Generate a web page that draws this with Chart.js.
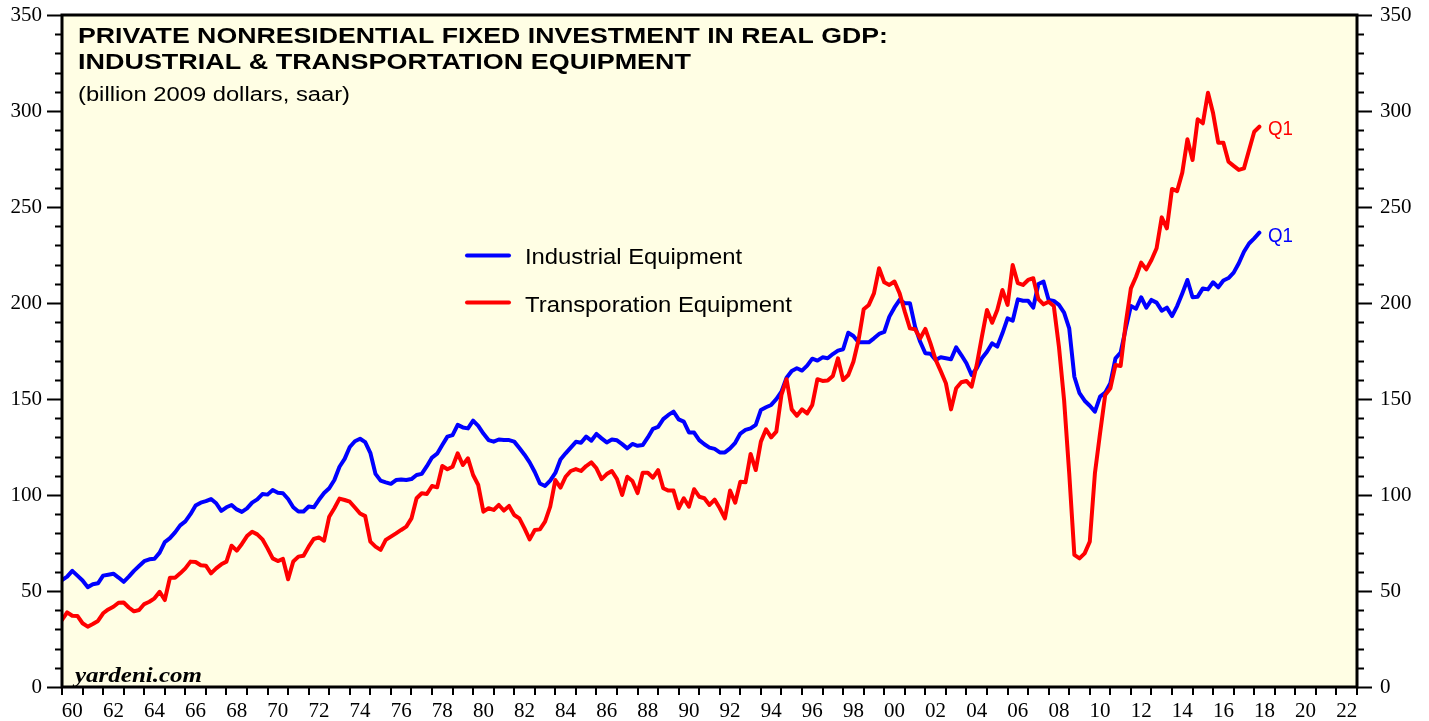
<!DOCTYPE html>
<html><head><meta charset="utf-8">
<script src="https://cdn.jsdelivr.net/npm/chart.js@4.4.1/dist/chart.umd.min.js"></script>
<style>html,body{margin:0;padding:0;background:#fff;overflow:hidden}#wrap{width:1429px;height:721px}</style>
</head><body><div id="wrap"><canvas id="c" width="1429" height="721"></canvas></div>
<script>
// Quarterly observations, first one (1959Q4) plotted at 1960.0, one quarter apart
const firstX = 1960;
const quarterStep = 0.25;

const industrial = [
 55.7, 57.5, 60.5, 58, 55.5, 52, 53.5, 54, 58, 58.5,
 59, 57, 54.8, 57.5, 60.5, 63, 65.5, 66.5, 66.8, 70,
 75.5, 77.5, 80.5, 84.2, 86.3, 90, 94.5, 96, 96.8, 97.9,
 95.7, 91.7, 93.6, 94.8, 92.5, 91.2, 93, 96, 97.7, 100.5,
 100.2, 102.6, 101.2, 100.9, 97.9, 93.6, 91.4, 91.4, 94, 93.6,
 97.5, 101, 103.5, 107.8, 114.7, 118.8, 125, 128, 129.3, 127.5,
 122, 111, 107.5, 106.6, 105.8, 107.8, 108.1, 107.8, 108.3, 110.4,
 111, 115, 119.5, 121.5, 126, 130.4, 131.2, 136.5, 135.2, 134.7,
 138.7, 136, 132, 128.6, 127.8, 128.9, 128.7, 128.6, 127.8, 124.5,
 121, 117, 112, 106, 104.7, 107.5, 111.5, 118.5, 121.7, 124.7,
 127.7, 127.2, 130.4, 128.3, 131.8, 129.5, 127.4, 128.9, 128.5, 126.5,
 124.3, 126.6, 125.6, 126, 130, 134.5, 135.5, 139.5, 141.7, 143.4,
 139.4, 138.2, 132.6, 132.5, 128.6, 126.4, 124.7, 124, 122.2, 122.2,
 124.3, 127.2, 132, 133.9, 134.7, 136.5, 144.3, 145.7, 146.9, 149.9,
 153.8, 161.1, 164.6, 166, 164.8, 167.4, 171, 170, 171.7, 171.2,
 173.4, 175.2, 175.9, 184.5, 182.8, 179.5, 179.5, 179.5, 181.6, 183.9,
 184.9, 192.9, 197.7, 201.6, 199.9, 199.9, 187.7, 179.8, 173.8, 173.6,
 170.3, 171.7, 171.2, 170.7, 176.9, 172.9, 168.6, 162.5, 166, 171.2,
 174.6, 179, 177.3, 184.2, 192, 190.8, 201.9, 201.2, 201.2, 197.6,
 209.9, 211.1, 201.6, 201.1, 199, 195, 186.8, 161.6, 153, 149.1,
 146.5, 143.4, 151.2, 153.3, 158.2, 171.2, 174.1, 186.8, 198.4, 197,
 203, 197.6, 201.6, 200.2, 196, 197.6, 193.2, 198.4, 205, 212,
 203, 203.3, 207.6, 207.1, 210.8, 208.2, 211.7, 213, 215.8, 220.7,
 226.7, 231, 233.7, 236.6
];

const transportation = [
 34.9, 38.9, 37.1, 37, 33.2, 31.4, 32.8, 34.4, 38.4, 40.4,
 41.8, 43.9, 44, 41.4, 39.4, 40.1, 43.2, 44.4, 46.2, 49.6,
 45.3, 56.9, 56.9, 59.2, 61.8, 65.3, 65.1, 63.4, 63.2, 59.2,
 61.8, 63.9, 65.3, 73.6, 71, 74.5, 78.6, 80.9, 79.5, 76.9,
 72.2, 67, 65.6, 66.7, 56.1, 65.4, 67.9, 68.4, 73.1, 77.1,
 77.9, 76.2, 88.7, 93.1, 98.1, 97.4, 96.5, 93.5, 90.4, 89,
 75.7, 73.1, 71.4, 76.6, 78.3, 80, 81.8, 83.5, 87.8, 98.3,
 100.9, 100.5, 104.7, 104, 115.1, 113.4, 114.7, 121.7, 115.6, 119.1,
 110.4, 105.2, 91.3, 93.1, 92.2, 94.8, 91.9, 94.3, 89.6, 87.8,
 82.6, 76.9, 81.8, 82.1, 86.1, 93.9, 107.8, 103.8, 109.5, 112.5,
 113.5, 112.5, 115.1, 117, 113.9, 108.3, 110.9, 112.5, 108.3, 100,
 109.5, 107.3, 101, 111.6, 111.6, 109, 113, 103.5, 102.3, 102.3,
 93.1, 98.3, 93.9, 103, 99.1, 98.3, 94.8, 97.6, 93.1, 87.8,
 102.3, 96, 106.9, 106.6, 121.4, 113, 127.8, 134.2, 130, 133,
 152.1, 160.3, 144.6, 141.3, 144.6, 142.5, 146.9, 160.3, 159.4, 159.6,
 162, 171.2, 159.9, 162.5, 169.4, 180.7, 196.7, 199, 205, 218.1,
 210.8, 209.4, 211.2, 205, 195.5, 186.8, 186.3, 181.6, 186.5, 179,
 170.5, 164.5, 158.2, 144.6, 155.6, 158.7, 159.4, 156.4, 167.7, 182.4,
 196.4, 189.7, 196.4, 206.8, 199, 219.8, 210.3, 209.4, 212, 212.9,
 202, 199.3, 200.7, 198.4, 177.2, 149.5, 111.3, 68.8, 67, 69.6,
 75.7, 111.3, 132.1, 152.1, 155.6, 167.7, 167.2, 189.4, 207.6, 213.7,
 221, 217.5, 222.4, 228.5, 244.6, 238.9, 259.4, 258.3, 267.9, 285.3,
 274.5, 295.7, 293.6, 309.5, 298.8, 283.5, 283.5, 273.6, 271.4, 269.3,
 270.1, 279.7, 289.2, 291.8
];

const seriesNames = ['Industrial Equipment', 'Transporation Equipment'];
const endLabel = 'Q1';
const yTickValues = [0, 50, 100, 150, 200, 250, 300, 350];
const yearTickValues = [];
for (let y = 1960; y <= 2023; y++) yearTickValues.push(y);
const titleLines = ['PRIVATE NONRESIDENTIAL FIXED INVESTMENT IN REAL GDP:', 'INDUSTRIAL & TRANSPORTATION EQUIPMENT'];
const subtitle = '(billion 2009 dollars, saar)';
const sourceNote = 'yardeni.com';

const BLUE = '#0000ff', RED = '#ff0000';
const SANS = '"Liberation Sans", Arial, Helvetica, sans-serif';
const SERIF = '"Liberation Serif", "Times New Roman", Times, serif';

const toPoints = arr => arr.map((v, i) => ({ x: firstX + i * quarterStep, y: v }));

function fitText(ctx, text, x, y, font, width, color) {
  ctx.save();
  ctx.font = font;
  ctx.fillStyle = color;
  ctx.textAlign = 'left';
  ctx.textBaseline = 'alphabetic';
  const w = ctx.measureText(text).width;
  ctx.translate(x, y);
  ctx.scale(width ? width / w : 1, 1);
  ctx.fillText(text, 0, 0);
  ctx.restore();
}

function noPad(s) { s.paddingTop = 0; s.paddingBottom = 0; s.paddingLeft = 0; s.paddingRight = 0; }

const decor = {
  id: 'decor',
  beforeDraw(chart) {
    const { ctx, chartArea: a } = chart;
    ctx.save();
    ctx.fillStyle = '#fffee4';
    ctx.fillRect(a.left, a.top, a.right - a.left, a.bottom - a.top);
    ctx.restore();
  },
  afterDraw(chart) {
    const { ctx, chartArea: a, scales } = chart;
    const ys = scales.y, xs = scales.x;
    ctx.save();
    ctx.strokeStyle = '#000';
    ctx.lineWidth = 2;
    ctx.beginPath();
    for (let v = 0; v <= 350; v += 10) {
      const py = Math.round(ys.getPixelForValue(v)) + 0.5;
      const len = v % 50 === 0 ? 15 : 7;
      ctx.moveTo(a.left - len, py); ctx.lineTo(a.left, py);
      ctx.moveTo(a.right, py); ctx.lineTo(a.right + len, py);
    }
    yearTickValues.forEach(yr => {
      const px = Math.round(xs.getPixelForValue(yr));
      ctx.moveTo(px, a.bottom); ctx.lineTo(px, a.bottom + 8);
    });
    ctx.stroke();
    // frame
    ctx.lineWidth = 3;
    ctx.strokeRect(a.left, a.top, a.right - a.left, a.bottom - a.top);
    // titles
    fitText(ctx, titleLines[0], 78, 42.5, 'bold 22px ' + SANS, 810, '#000');
    fitText(ctx, titleLines[1], 78, 69, 'bold 22px ' + SANS, 613, '#000');
    fitText(ctx, subtitle, 78, 100.5, '20px ' + SANS, 272, '#000');
    // legend
    ctx.lineCap = 'round';
    ctx.lineWidth = 4;
    ctx.strokeStyle = BLUE;
    ctx.beginPath(); ctx.moveTo(467, 255.5); ctx.lineTo(509, 255.5); ctx.stroke();
    ctx.strokeStyle = RED;
    ctx.beginPath(); ctx.moveTo(467, 302.5); ctx.lineTo(509, 302.5); ctx.stroke();
    fitText(ctx, seriesNames[0], 525, 264, '22px ' + SANS, 217, '#000');
    fitText(ctx, seriesNames[1], 525, 311.5, '22px ' + SANS, 267, '#000');
    // end labels
    fitText(ctx, endLabel, 1268, 135, '21px ' + SANS, 25, RED);
    fitText(ctx, endLabel, 1268, 241.5, '21px ' + SANS, 25, BLUE);
    // source
    fitText(ctx, sourceNote, 75, 682, 'italic bold 22px ' + SERIF, 127, '#000');
    ctx.restore();
  }
};

const tickFont = { family: SERIF, size: 21 };

new Chart(document.getElementById('c'), {
  type: 'line',
  data: {
    datasets: [
      { label: seriesNames[1], data: toPoints(transportation), borderColor: RED, borderWidth: 4, order: 0 },
      { label: seriesNames[0], data: toPoints(industrial), borderColor: BLUE, borderWidth: 4, order: 1 }
    ]
  },
  options: {
    responsive: false,
    animation: false,
    devicePixelRatio: 1,
    parsing: false,
    elements: { point: { radius: 0 }, line: { tension: 0, borderJoinStyle: 'round', borderCapStyle: 'round' } },
    layout: { padding: { top: 15, left: 0, right: 0, bottom: 0 } },
    plugins: { legend: { display: false }, title: { display: false }, tooltip: { enabled: false } },
    scales: {
      x: {
        type: 'linear', min: 1960, max: 2023,
        afterBuildTicks: s => { s.ticks = yearTickValues.map(v => ({ value: v })); },
        afterFit: s => { s.height = 34; noPad(s); },
        grid: { display: false, drawTicks: false },
        border: { display: false },
        ticks: {
          autoSkip: false, maxRotation: 0, minRotation: 0, padding: 12, labelOffset: 10.28,
          color: '#000', font: tickFont,
          callback: v => (v % 2 === 0 && v < 2023) ? String(v).slice(2) : ''
        }
      },
      y: {
        type: 'linear', position: 'left', min: 0, max: 350,
        afterBuildTicks: s => { s.ticks = yTickValues.map(v => ({ value: v })); },
        afterFit: s => { s.width = 62; noPad(s); },
        grid: { display: false, drawTicks: false },
        border: { display: false },
        ticks: { padding: 20, color: '#000', font: tickFont }
      },
      y2: {
        type: 'linear', position: 'right', min: 0, max: 350,
        afterBuildTicks: s => { s.ticks = yTickValues.map(v => ({ value: v })); },
        afterFit: s => { s.width = 72; noPad(s); },
        grid: { display: false, drawTicks: false },
        border: { display: false },
        ticks: { padding: 23, color: '#000', font: tickFont }
      }
    }
  },
  plugins: [decor]
});
</script>
</body></html>
